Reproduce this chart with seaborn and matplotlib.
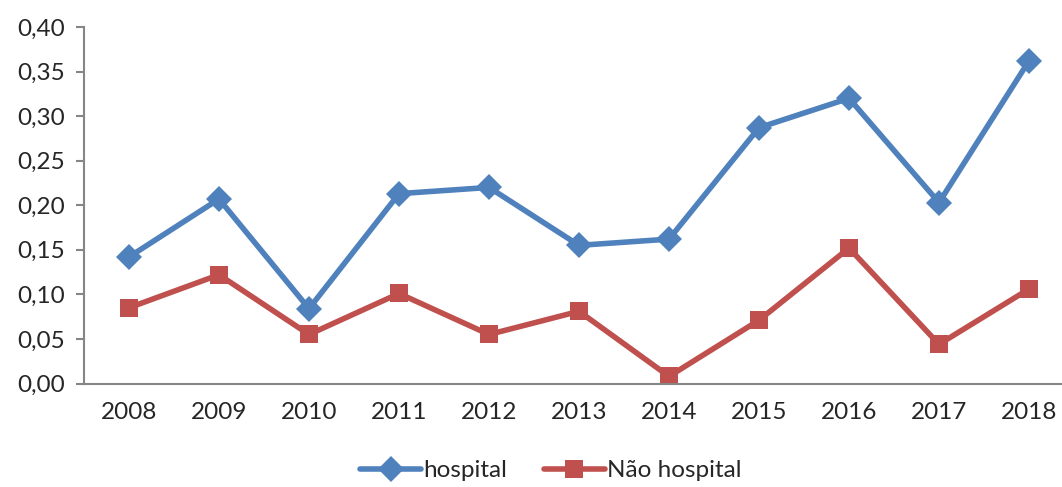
import numpy as np
import pandas as pd
import matplotlib
matplotlib.use("Agg")
import matplotlib.pyplot as plt
import seaborn as sns

years = ["2008", "2009", "2010", "2011", "2012", "2013", "2014", "2015", "2016", "2017", "2018"]
hospital = [0.142, 0.207, 0.084, 0.213, 0.220, 0.155, 0.162, 0.287, 0.320, 0.203, 0.362]
nao_hospital = [0.085, 0.122, 0.055, 0.101, 0.055, 0.081, 0.008, 0.071, 0.152, 0.044, 0.106]
y_ticks = [0.00, 0.05, 0.10, 0.15, 0.20, 0.25, 0.30, 0.35, 0.40]

sns.set_theme(style="white")
plt.rcParams["font.family"] = ["Lato", "DejaVu Sans"]

pos = np.arange(len(years))
df = pd.DataFrame({
    "pos": np.concatenate([pos, pos]),
    "valor": hospital + nao_hospital,
    "serie": ["hospital"] * len(years) + ["Não hospital"] * len(years),
})

fig = plt.figure(figsize=(10.62, 4.87), dpi=100)
ax = fig.add_axes([84 / 1062, 1 - 383.5 / 487, 990 / 1062, 356.5 / 487])

palette = {"hospital": "#4F81BD", "Não hospital": "#C0504D"}
markers = {"hospital": "D", "Não hospital": "s"}
sns.lineplot(data=df, x="pos", y="valor", hue="serie", style="serie",
             palette=palette, markers=markers, dashes=False,
             linewidth=4, markersize=13, markeredgewidth=0, ax=ax)

ax.set_xlim(-0.5, len(years) - 0.5)
ax.set_ylim(0, 0.40)
ax.set_yticks(y_ticks)
ax.set_yticklabels([f"{v:.2f}".replace(".", ",") for v in y_ticks], fontsize=17.5)
ax.set_xticks(pos)
ax.set_xticklabels(years, fontsize=17.5)
ax.set_xticks(np.arange(-0.5, len(years)), minor=True)
ax.tick_params(axis="x", which="major", length=0, pad=13)
ax.tick_params(axis="x", which="minor", length=6, width=1.5, color="#868686", direction="out")
ax.tick_params(axis="y", length=6, width=1.5, color="#868686", direction="out", pad=8, left=True)
ax.set_xlabel("")
ax.set_ylabel("")

for side in ["top", "right"]:
    ax.spines[side].set_visible(False)
for side in ["left", "bottom"]:
    ax.spines[side].set_color("#868686")
    ax.spines[side].set_linewidth(1.5)

handles, labels = ax.get_legend_handles_labels()
ax.legend(handles, labels, loc="center", bbox_to_anchor=(467 / 990, -0.245),
          ncol=2, frameon=False, fontsize=17.5, handlelength=2.5,
          columnspacing=1.5, handletextpad=0.1, borderaxespad=0)

fig.savefig("out.png", dpi=100)
